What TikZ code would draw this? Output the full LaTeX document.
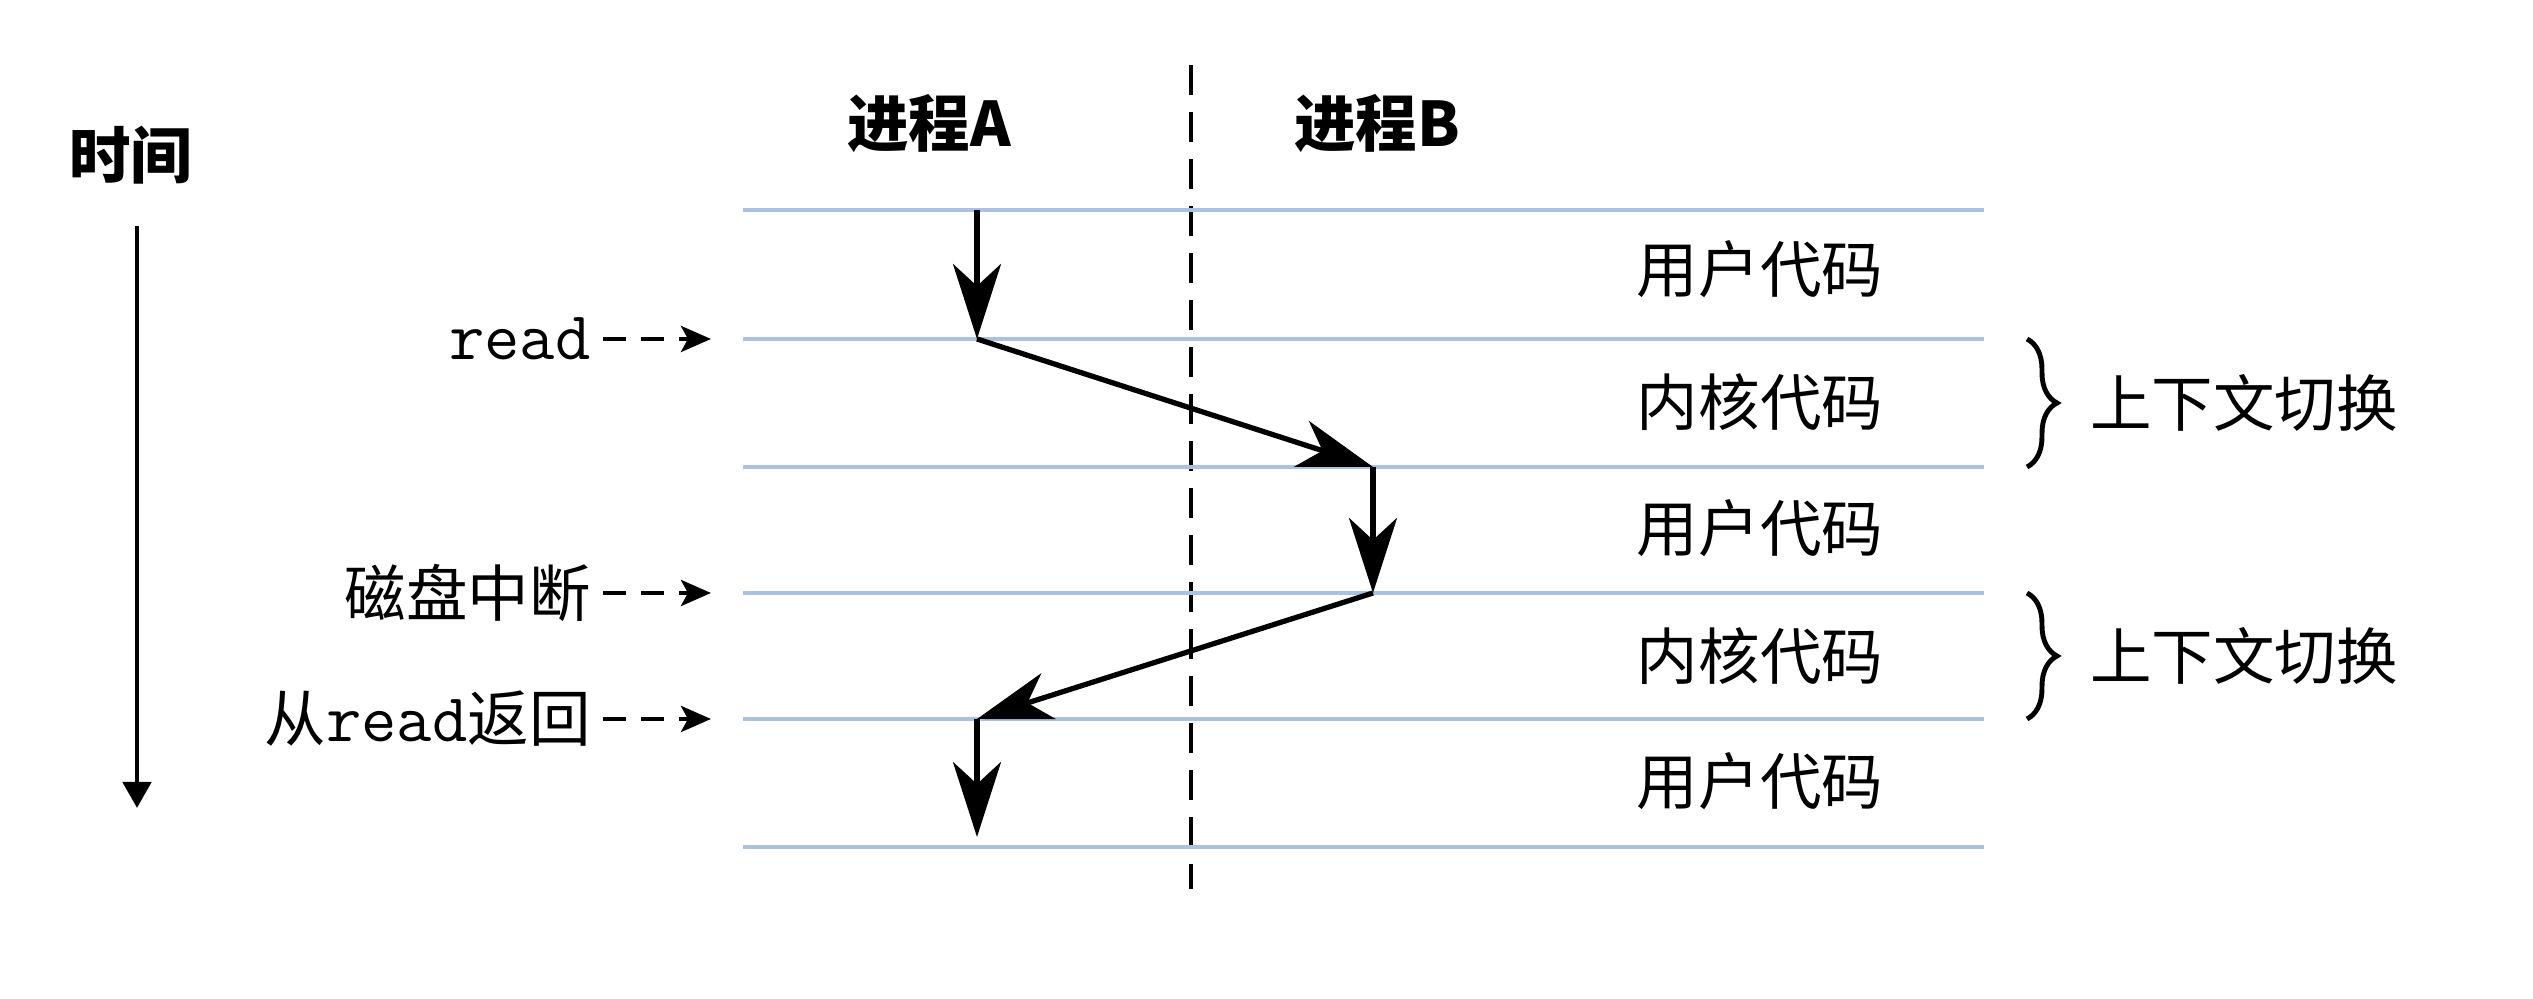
\documentclass[tikz,border=0pt]{standalone}
\usepackage{fontspec}
\setmainfont{Noto Sans CJK SC}
\usetikzlibrary{arrows.meta,decorations.pathreplacing}
\definecolor{bandline}{RGB}{172,192,226}
\tikzset{
	flow/.style={line width=1.5pt, -{Stealth[length=7.5mm, width=4.8mm, inset=2.2mm]}},
	pointer/.style={line width=1.3pt, dash pattern=on 0.23cm off 0.15cm, -{Stealth[length=3mm, width=2.6mm, inset=0.7mm]}},
	bracer/.style={decorate, decoration={brace, amplitude=0.3cm}, line width=1.4pt},
	mono/.style={font=\fontsize{19.5}{21}\selectfont\ttfamily}
}

\begin{document}
\begin{tikzpicture}[font=\fontsize{17.5}{21}\selectfont]
			%%%%% START %%%%%
			\useasboundingbox (0, 0) rectangle (25.33, 9.99);
			
			% time axis
			\node[font=\fontsize{17.5}{21}\selectfont\bfseries] (time) at (1.31, 8.44) {时间};
			\coordinate (ttop) at (1.37, 7.73);
			\coordinate (tbot) at (1.37, 1.91);
			\draw[line width=1.4pt, -{Triangle[length=2.6mm, width=2.8mm]}] (ttop) -- (tbot);
			
			% process headers and divider
			\node[font=\fontsize{17.5}{21}\selectfont\bfseries] (procA) at (9.29, 8.75) {进程A};
			\node[font=\fontsize{17.5}{21}\selectfont\bfseries] (procB) at (13.77, 8.75) {进程B};
			\coordinate (dtop) at (11.91, 9.34);
			\coordinate (dbot) at (11.91, 1.10);
			\draw[line width=1.4pt, dash pattern=on 0.3cm off 0.17cm] (dtop) -- (dbot);
			
			% band lines
			\foreach \y in {7.89, 6.60, 5.32, 4.06, 2.80, 1.52}
				\draw[line width=1pt, color=bandline] (7.43, \y) -- (19.84, \y);
			
			% band texts
			\node (u1) at (17.60, 7.30) {用户代码};
			\node (k1) at (17.60, 5.97) {内核代码};
			\node (u2) at (17.60, 4.71) {用户代码};
			\node (k2) at (17.60, 3.43) {内核代码};
			\node (u3) at (17.60, 2.18) {用户代码};
			
			% control flow
			\coordinate (a1) at (9.77, 7.89);
			\coordinate (a2) at (9.77, 6.60);
			\coordinate (b1) at (13.73, 5.32);
			\coordinate (b2) at (13.73, 4.06);
			\coordinate (a3) at (9.77, 2.80);
			\coordinate (a4) at (9.77, 1.62);
			\draw[flow] (a1) -- (a2);
			\draw[flow] (a2) -- (b1);
			\draw[flow] (b1) -- (b2);
			\draw[flow] (b2) -- (a3);
			\draw[flow] (a3) -- (a4);
			
			% event labels
			\node[anchor=east, mono] (lread) at (6.03, 6.60) {read};
			\node[anchor=east] (ldisk) at (6.03, 4.06) {磁盘中断};
			\node[anchor=east] (lret) at (6.03, 2.80) {从{\fontsize{19.5}{21}\selectfont\ttfamily read}返回};
			\coordinate (eread) at (7.11, 6.60);
			\coordinate (edisk) at (7.11, 4.06);
			\coordinate (eret) at (7.11, 2.80);
			\draw[pointer] (lread) -- (eread);
			\draw[pointer] (ldisk) -- (edisk);
			\draw[pointer] (lret) -- (eret);
			
			% context switches
			\coordinate (s1t) at (20.27, 6.60);
			\coordinate (s1b) at (20.27, 5.32);
			\coordinate (s2t) at (20.27, 4.06);
			\coordinate (s2b) at (20.27, 2.80);
			\draw[bracer] (s1t) -- (s1b);
			\draw[bracer] (s2t) -- (s2b);
			\node[anchor=west] (cs1) at (20.78, 5.96) {上下文切换};
			\node[anchor=west] (cs2) at (20.78, 3.43) {上下文切换};
			
			%%%%% END %%%%%
\end{tikzpicture}
\end{document}
